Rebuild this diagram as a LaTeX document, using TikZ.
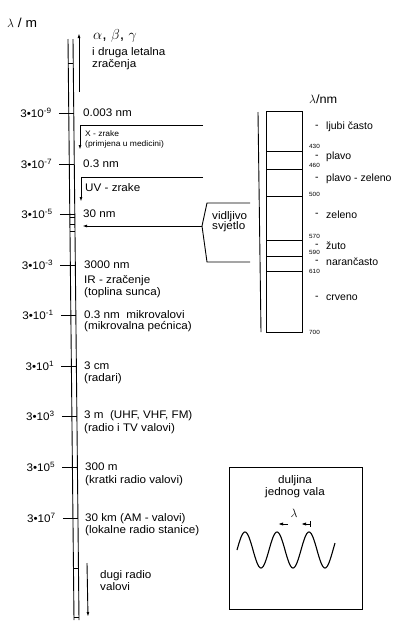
\documentclass[tikz,border=0pt]{standalone}
\usepackage{fontspec}
\setmainfont{Liberation Sans}[FakeStretch=1.06]
\newfontfamily\narrowfont{Liberation Sans}
\usetikzlibrary{arrows.meta,calc}
\tikzset{
  txt/.style={anchor=west, inner sep=0pt, font=\fontsize{11}{12}\selectfont},
  colortxt/.style={anchor=west, inner sep=0pt, font=\narrowfont\fontsize{10.5}{12}\selectfont},
  smalltxt/.style={anchor=west, inner sep=0pt, font=\fontsize{8}{9}\selectfont},
  tinytxt/.style={anchor=west, inner sep=0pt, font=\fontsize{6}{6}\selectfont},
  exptxt/.style={anchor=east, inner sep=0pt, font=\fontsize{11}{12}\selectfont},
  ln/.style={line width=0.9pt},
  arr/.style={ln, -{Latex[length=5pt,width=2.8pt]}},
}
\begin{document}
\begin{tikzpicture}[x=1pt,y=-1pt]
\useasboundingbox (0,0) rectangle (398,622);
% axis
\coordinate (aLt) at (68,39); \coordinate (aLb) at (74,620);
\coordinate (aRt) at (73,39); \coordinate (aRb) at (79,620);
\draw[ln] (aLt) -- (aLb);
\draw[ln] (aRt) -- (aRb);
\foreach \y in {63,217,224,231,568,617}
  \draw[ln] ($(aLt)!{(\y-39)/581}!(aLb)$) -- ($(aRt)!{(\y-39)/581}!(aRb)$);
\foreach \y/\e in {113/-9,164/-7,214/-5,265/-3,315/-1,366/1,416/3,467/5,518/7}{
  \coordinate (tR) at ($(aRt)!{(\y-39)/581}!(aRb)$);
  \draw[ln] ($(tR)+(-15,0)$) coordinate (tL) -- (tR);
  \node[exptxt] (e\y) at ($(tL)+(-7,0)$) {3•10\textsuperscript{\e}};
}
\node[inner sep=0pt, anchor=west, font=\fontsize{13}{14}\selectfont] (lm) at (7,23) {$\lambda$ / m};
% top arrow
\coordinate (gb) at (79,92); \coordinate (gt) at (79,33);
\draw[arr] (gb) -- (gt);
\node[txt, font=\fontsize{15}{16}\selectfont] (abg) at (93,36) {$\alpha$, $\beta$, $\gamma$};
\node[txt] (idl) at (92,53) {i druga letalna};
\node[txt] (zr) at (92,65) {zračenja};
% labels
\node[txt] (n1) at (83,113) {0.003 nm};
\node[smalltxt] (xz) at (85,134) {X - zrake};
\node[smalltxt] (xm) at (85,144) {(primjena u medicini)};
\node[txt] (n2) at (83,164) {0.3 nm};
\node[txt] (uv) at (85,188) {UV - zrake};
\node[txt] (n3) at (83,214) {30 nm};
\node[txt] (n4) at (84,265) {3000 nm};
\node[txt] (ir) at (84,281) {IR - zračenje};
\node[txt] (tp) at (84,293) {(toplina sunca)};
\node[txt] (n5) at (84,315) {0.3 nm\ \ mikrovalovi};
\node[txt] (mp) at (84,327) {(mikrovalna pećnica)};
\node[txt] (n6) at (84,366) {3 cm};
\node[txt] (rd) at (84,379) {(radari)};
\node[txt] (n7) at (84,416) {3 m\ \ (UHF, VHF, FM)};
\node[txt] (tv) at (84,429) {(radio i TV valovi)};
\node[txt] (n8) at (85,467) {300 m};
\node[txt] (kr) at (85,481) {(kratki radio valovi)};
\node[txt] (n9) at (85,519) {30 km (AM - valovi)};
\node[txt] (lr) at (85,531) {(lokalne radio stanice)};
\node[txt] (dg) at (100,576) {dugi radio};
\node[txt] (dv) at (100,587) {valovi};
% bottom arrow
\coordinate (bt) at (87,563); \coordinate (bb) at (88,617);
\draw[arr] (bt) -- (bb);
% X bracket
\coordinate (xe) at (203,125); \coordinate (xc) at (80,125); \coordinate (xt) at (80,150);
\draw[arr] (xe) -- (xc) -- (xt);
% UV bracket
\coordinate (ue) at (203,177); \coordinate (uc) at (81,177); \coordinate (ut) at (81,202);
\draw[arr] (ue) -- (uc) -- (ut);
% visible light
\draw[ln] (250,203) -- (207,203) -- (202,226) coordinate (vp) -- (207,262) -- (250,262);
\coordinate (va) at (82,226);
\draw[arr] (vp) -- (va);
\node[txt, align=left] (vis) at (212,222) {vidljivo\\[-2pt]svjetlo};
\draw[ln] (258,112) -- (261,332);
% colour scale
\draw[ln] (266,111) rectangle (302,332);
\foreach \y in {151,169,196,240,256,271} \draw[ln] (266,\y) -- (302,\y);
\node[txt, font=\fontsize{12}{14}\selectfont] (lnm) at (309,99) {$\lambda$/nm};
\foreach \y/\v in {146/430,165/460,194/500,236/570,252/590,271/610,332/700}
  \node[tinytxt] at (309,\y) {\v};
\foreach \y/\c in {127/ljubi často,157/plavo,179/plavo - zeleno,215/zeleno,246/žuto,262/narančasto,298/crveno}{
  \node[colortxt] at (315,\y) {-};
  \node[colortxt] at (326,\y) {\c};
}
% wave box
\draw[ln] (229,467) rectangle (362,609);
\node[inner sep=0pt, align=center, font=\fontsize{11}{12}\selectfont] (dj) at (295,487) {duljina\\jednog vala};
\node[inner sep=0pt, font=\fontsize{13}{14}\selectfont] (lam) at (294,513) {$\lambda$};
\coordinate (la1) at (288,524); \coordinate (la2) at (278,524);
\coordinate (ra1) at (310,524); \coordinate (ra2) at (301,524);
\draw[ln, -{Latex[length=5pt,width=3.2pt]}] (la1) -- (la2);
\draw[ln, -{Latex[length=5pt,width=3.2pt]}] (ra1) -- (ra2);
\draw[ln] (310,521) -- (310,527);
\draw[line width=1.1pt] plot[domain=237:335, samples=150, smooth] (\x, {550 - 18*sin(11.25*(\x-237))});
\end{tikzpicture}
\end{document}
